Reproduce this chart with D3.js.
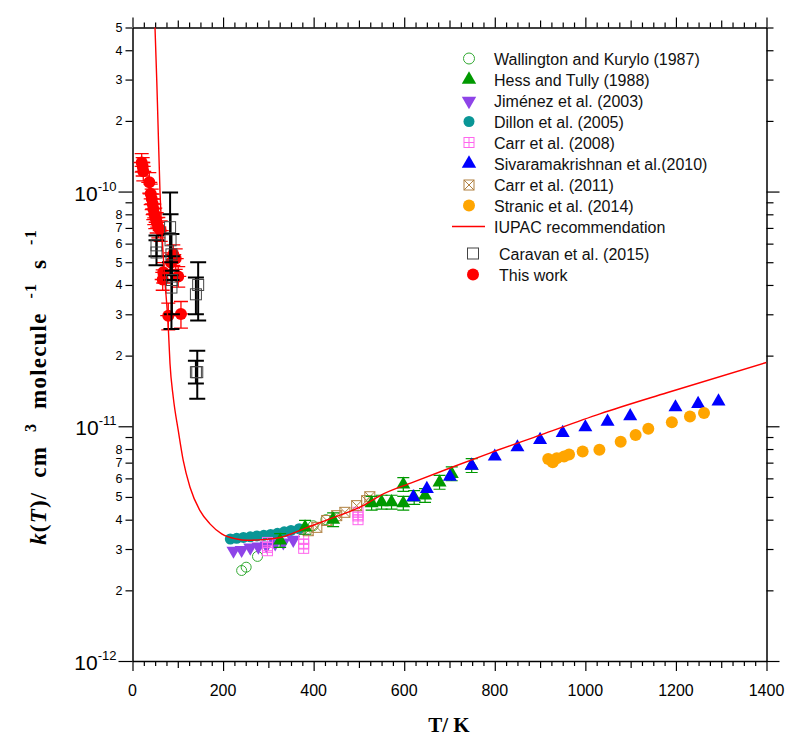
<!DOCTYPE html>
<html><head><meta charset="utf-8">
<script src="https://cdn.jsdelivr.net/npm/d3@7"></script>
<style>body{margin:0;background:#fff}</style>
</head><body>
<svg id="chart" width="800" height="747"></svg>
<script>
// ---------------- DATA ----------------
const xTickValues = [0, 200, 400, 600, 800, 1000, 1200, 1400];
const yMajorTicks = [1e-12, 1e-11, 1e-10];
const yMajorLabels = ["-12", "-11", "-10"];
const yMinorTicks = [2e-12,3e-12,4e-12,5e-12,6e-12,7e-12,8e-12,9e-12,
                     2e-11,3e-11,4e-11,5e-11,6e-11,7e-11,8e-11,9e-11,
                     2e-10,3e-10,4e-10,5e-10];
const yMinorLabels = ["2","3","4","5","6","7","8","",
                      "2","3","4","5","6","7","8","",
                      "2","3","4","5"];

const iupacT = [47, 49.7, 55, 60.7, 70, 79, 82.8, 90, 101, 112, 127, 149, 171, 197, 230, 252, 290, 326, 385, 436, 509, 547, 620, 701, 789, 900, 1032, 1180, 1400];
const iupacK = [6.2e-10, 5.0e-10, 2.4e-10, 1.0e-10, 4.6e-11, 2.64e-11, 1.85e-11, 1.33e-11, 9.6e-12, 7.15e-12, 5.5e-12, 4.37e-12, 3.84e-12, 3.48e-12, 3.31e-12, 3.27e-12, 3.29e-12, 3.36e-12, 3.70e-12, 4.03e-12, 4.59e-12, 5.07e-12, 5.78e-12, 6.64e-12, 7.69e-12, 9.17e-12, 1.13e-11, 1.39e-11, 1.87e-11];

const wallingtonT = [241, 251, 276, 326, 399, 427];
const wallingtonK = [2.43e-12, 2.51e-12, 2.79e-12, 3.2e-12, 3.77e-12, 4.0e-12];

const hessT = [326, 381, 443, 528, 550, 572, 598, 598, 622, 646, 678, 705, 749];
const hessK = [3.26e-12, 3.71e-12, 4.0e-12, 4.70e-12, 4.75e-12, 4.75e-12, 4.70e-12, 5.65e-12, 4.97e-12, 5.07e-12, 5.77e-12, 6.27e-12, 6.8e-12];

const jimenezT = [223, 241, 260, 278, 296, 315, 333, 355];
const jimenezK = [2.95e-12, 2.97e-12, 3.04e-12, 3.07e-12, 3.10e-12, 3.17e-12, 3.20e-12, 3.28e-12];

const dillonT = [216, 230, 245, 260, 275, 290, 305, 320, 335, 350, 368];
const dillonK = [3.31e-12, 3.33e-12, 3.36e-12, 3.38e-12, 3.41e-12, 3.43e-12, 3.46e-12, 3.50e-12, 3.55e-12, 3.60e-12, 3.66e-12];

const carr2008T = [298, 298, 298, 378, 378, 378, 498, 498, 498];
const carr2008K = [3.2e-12, 3.05e-12, 2.95e-12, 3.3e-12, 3.15e-12, 3.02e-12, 4.3e-12, 4.15e-12, 4.0e-12];

const sivaT = [620, 650, 701, 749, 800, 850, 900, 950, 1000, 1049, 1099, 1199, 1249, 1294];
const sivaK = [4.99e-12, 5.41e-12, 6.1e-12, 6.8e-12, 7.43e-12, 8.14e-12, 8.75e-12, 9.37e-12, 9.9e-12, 1.047e-11, 1.104e-11, 1.205e-11, 1.246e-11, 1.277e-11];

const carr2011T = [388, 407, 429, 451, 469, 495, 517, 524];
const carr2011K = [3.59e-12, 3.71e-12, 3.97e-12, 4.16e-12, 4.30e-12, 4.59e-12, 4.82e-12, 5.01e-12];

const stranicT = [918, 928, 937, 953, 964, 994, 1031, 1078, 1111, 1139, 1191, 1231, 1262];
const stranicK = [7.26e-12, 7.03e-12, 7.3e-12, 7.43e-12, 7.58e-12, 7.8e-12, 7.94e-12, 8.6e-12, 9.19e-12, 9.75e-12, 1.04e-11, 1.10e-11, 1.14e-11];

const caravanT = [53, 53, 83, 84, 86, 87, 86, 140, 145, 140, 143];
const caravanK = [5.9e-11, 5.5e-11, 7.05e-11, 6.2e-11, 5.4e-11, 4.2e-11, 3.9e-11, 3.65e-11, 4.0e-11, 1.7e-11, 1.7e-11];
const caravanHi = [6.5e-11, 6.2e-11, 9.9e-11, 8.0e-11, 6.6e-11, 5.3e-11, 4.6e-11, 4.3e-11, 5.0e-11, 1.9e-11, 2.1e-11];
const caravanLo = [5.3e-11, 4.85e-11, 5.0e-11, 4.4e-11, 4.2e-11, 3.0e-11, 2.6e-11, 3.0e-11, 2.82e-11, 1.52e-11, 1.31e-11];

const thisT = [20.3, 22.5, 23.8, 37.1, 40.2, 42.4, 44.6, 45.9, 48.1, 50.3, 53.4, 57, 62.3, 90.1, 95.4, 85, 68, 66.7, 101, 79, 107];
const thisK = [1.33e-10, 1.28e-10, 1.22e-10, 1.095e-10, 9.78e-11, 9.31e-11, 8.86e-11, 8.44e-11, 8.04e-11, 7.73e-11, 7.40e-11, 7.05e-11, 6.82e-11, 5.39e-11, 5.18e-11, 4.98e-11, 4.53e-11, 4.22e-11, 4.35e-11, 2.96e-11, 3.01e-11];
const thisErr = [0.09, 0.09, 0.09, 0.1, 0.1, 0.1, 0.1, 0.1, 0.1, 0.1, 0.1, 0.1, 0.1, 0.1, 0.1, 0.1, 0.1, 0.1, 0.1, 0.13, 0.13];

const legendLabels = ["Wallington and Kurylo (1987)", "Hess and Tully (1988)", "Jiménez et al. (2003)", "Dillon et al. (2005)", "Carr et al. (2008)", "Sivaramakrishnan et al.(2010)", "Carr et al. (2011)", "Stranic et al. (2014)", "IUPAC recommendation", "Caravan et al. (2015)", "This work"];

// ---------------- CHART ----------------
const svg = d3.select("#chart");
const L = 132.5, R = 766.5, T = 27.5, B = 661;
const x = d3.scaleLinear().domain([0, 1400]).range([L, R]);
const y = d3.scaleLog().domain([1e-12, 5e-10]).range([B, T]);
const sansFont = "'Liberation Sans', Arial, sans-serif";
const serifFont = "'Liberation Serif', 'Times New Roman', serif";

const zip = (a, b) => a.map((v, i) => [v, b[i]]);

// axes ticks
const xAll = d3.range(0, 1401, 25);
const tlen = v => (v % 200 === 0 ? 10 : (v % 100 === 0 ? 7 : 5));
function styleAxis(g) { g.select(".domain").attr("stroke", "#000").attr("stroke-width", 1.5); g.selectAll(".tick line").attr("stroke", "#000").attr("stroke-width", 1.2); g.selectAll("text").remove(); }

const gxB = svg.append("g").attr("transform", `translate(0,${B})`)
  .call(d3.axisBottom(x).tickValues(xAll).tickSizeOuter(0).tickFormat(""));
styleAxis(gxB);
gxB.selectAll(".tick line").attr("y2", d => tlen(d));
const gxT = svg.append("g").attr("transform", `translate(0,${T})`)
  .call(d3.axisTop(x).tickValues(xAll).tickSizeOuter(0).tickFormat(""));
styleAxis(gxT);
gxT.selectAll(".tick line").attr("y2", d => -tlen(d));

const yAll = yMajorTicks.concat(yMinorTicks);
const isMajor = v => yMajorTicks.includes(v);
const gyL = svg.append("g").attr("transform", `translate(${L},0)`)
  .call(d3.axisLeft(y).tickValues(yAll).tickSizeOuter(0).tickFormat(""));
styleAxis(gyL);
gyL.selectAll(".tick line").attr("x2", d => isMajor(d) ? -14 : -7);
const gyR = svg.append("g").attr("transform", `translate(${R},0)`)
  .call(d3.axisRight(y).tickValues(yAll).tickSizeOuter(0).tickFormat(""));
styleAxis(gyR);
gyR.selectAll(".tick line").attr("x2", d => isMajor(d) ? 13 : 7);

// x tick labels
svg.append("g").selectAll("text").data(xTickValues).join("text")
  .attr("x", d => x(d)).attr("y", B + 35)
  .attr("text-anchor", "middle").attr("font-family", sansFont).attr("font-size", 16)
  .text(d => d);

// y minor labels
svg.append("g").selectAll("text").data(zip(yMinorTicks, yMinorLabels)).join("text")
  .attr("x", L - 10).attr("y", d => y(d[0]) + 4.5)
  .attr("text-anchor", "end").attr("font-family", sansFont).attr("font-size", 12.5)
  .text(d => d[1]);
// y major labels
const maj = svg.append("g").selectAll("text").data(zip(yMajorTicks, yMajorLabels)).join("text")
  .attr("x", L - 16).attr("y", d => y(d[0]) + 9)
  .attr("text-anchor", "end").attr("font-family", sansFont).attr("font-size", 21);
maj.append("tspan").text("10");
maj.append("tspan").attr("dy", -10).attr("font-size", 13).text(d => d[1]);

// axis titles
svg.append("text").attr("x", 449).attr("y", 732).attr("text-anchor", "middle")
  .attr("font-family", serifFont).attr("font-weight", "bold").attr("font-size", 21).text("T/ K");
const yl = svg.append("text").attr("transform", "translate(46,387) rotate(-90)")
  .attr("text-anchor", "middle").attr("font-family", serifFont).attr("font-weight", "bold").attr("font-size", 23)
  .attr("letter-spacing", 1.2).attr("xml:space", "preserve");
yl.append("tspan").attr("font-style", "italic").text("k");
yl.append("tspan").text("(");
yl.append("tspan").attr("font-style", "italic").text("T");
yl.append("tspan").text(")/  cm  ");
yl.append("tspan").attr("dy", -10).attr("font-size", 16).text("3");
yl.append("tspan").attr("dy", 10).text("  molecule  ");
yl.append("tspan").attr("dy", -10).attr("font-size", 16).text("-1");
yl.append("tspan").attr("dy", 10).text("  s  ");
yl.append("tspan").attr("dy", -10).attr("font-size", 16).text("-1");

// clip
svg.append("clipPath").attr("id", "clip").append("rect").attr("x", L).attr("y", T).attr("width", R - L).attr("height", B - T);
const plot = svg.append("g").attr("clip-path", "url(#clip)");

// symbols
const triUp = d3.symbol().type(d3.symbolTriangle).size(85)();
const triUpL = d3.symbol().type(d3.symbolTriangle).size(90)();

// Wallington
plot.append("g").selectAll("circle").data(zip(wallingtonT, wallingtonK)).join("circle")
  .attr("cx", d => x(d[0])).attr("cy", d => y(d[1])).attr("r", 5)
  .attr("fill", "none").attr("stroke", "#33aa33").attr("stroke-width", 1);

// Dillon
plot.append("g").selectAll("circle").data(zip(dillonT, dillonK)).join("circle")
  .attr("cx", d => x(d[0])).attr("cy", d => y(d[1])).attr("r", 5.5)
  .attr("fill", "#0a9696");

// Jimenez (down triangles)
plot.append("g").selectAll("path").data(zip(jimenezT, jimenezK)).join("path")
  .attr("d", triUp).attr("transform", d => `translate(${x(d[0])},${y(d[1])}) rotate(180)`)
  .attr("fill", "#8e44e8");

// Carr 2008
const c08 = plot.append("g").selectAll("g").data(zip(carr2008T, carr2008K)).join("g")
  .attr("transform", d => `translate(${x(d[0])},${y(d[1])})`)
  .attr("stroke", "#ff66ee").attr("fill", "none").attr("stroke-width", 1);
c08.append("rect").attr("x", -5).attr("y", -5).attr("width", 10).attr("height", 10);
c08.append("path").attr("d", "M-5,0H5M0,-5V5");

// Carr 2011
const c11 = plot.append("g").selectAll("g").data(zip(carr2011T, carr2011K)).join("g")
  .attr("transform", d => `translate(${x(d[0])},${y(d[1])})`)
  .attr("stroke", "#b08040").attr("fill", "none").attr("stroke-width", 1);
c11.append("rect").attr("x", -5).attr("y", -5).attr("width", 10).attr("height", 10);
c11.append("path").attr("d", "M-5,-5L5,5M5,-5L-5,5");

// Hess & Tully with error bars
const hg = plot.append("g");
hg.selectAll("path.eb").data(zip(hessT, hessK)).join("path").attr("class", "eb")
  .attr("d", d => { const cx = x(d[0]), y1 = y(d[1] * 1.07), y2 = y(d[1] / 1.07);
    return `M${cx},${y1}V${y2}M${cx - 6},${y1}H${cx + 6}M${cx - 6},${y2}H${cx + 6}`; })
  .attr("stroke", "#009900").attr("stroke-width", 1.2).attr("fill", "none");
hg.selectAll("path.m").data(zip(hessT, hessK)).join("path").attr("class", "m")
  .attr("d", triUp).attr("transform", d => `translate(${x(d[0])},${y(d[1])})`)
  .attr("fill", "#009900");

// Sivaramakrishnan
plot.append("g").selectAll("path").data(zip(sivaT, sivaK)).join("path")
  .attr("d", triUp).attr("transform", d => `translate(${x(d[0])},${y(d[1])})`)
  .attr("fill", "#0000ff");

// Stranic
plot.append("g").selectAll("circle").data(zip(stranicT, stranicK)).join("circle")
  .attr("cx", d => x(d[0])).attr("cy", d => y(d[1])).attr("r", 6)
  .attr("fill", "#ffa500");

// This work
const tw = plot.append("g");
const twData = thisT.map((t, i) => [t, thisK[i], thisErr[i]]);
tw.selectAll("path").data(twData).join("path")
  .attr("d", d => { const cx = x(d[0]), cy = y(d[1]), y1 = y(d[1] * (1 + d[2])), y2 = y(d[1] * (1 - d[2]));
    return `M${cx},${y1}V${y2}M${cx - 7},${y1}H${cx + 7}M${cx - 7},${y2}H${cx + 7}M${cx - 8},${cy}H${cx + 8}`; })
  .attr("stroke", "#ff0000").attr("stroke-width", 1.3).attr("fill", "none");
tw.selectAll("circle").data(twData).join("circle")
  .attr("cx", d => x(d[0])).attr("cy", d => y(d[1])).attr("r", 6).attr("fill", "#ff0000");

// Caravan
const cv = plot.append("g");
const cvData = caravanT.map((t, i) => [t, caravanK[i], caravanHi[i], caravanLo[i]]);
cv.selectAll("path").data(cvData).join("path")
  .attr("d", d => { const cx = x(d[0]), y1 = y(d[2]), y2 = y(d[3]);
    return `M${cx},${y1}V${y2}M${cx - 8},${y1}H${cx + 8}M${cx - 8},${y2}H${cx + 8}`; })
  .attr("stroke", "#000").attr("stroke-width", 2).attr("fill", "none");
cv.selectAll("rect").data(cvData).join("rect")
  .attr("x", d => x(d[0]) - 5.5).attr("y", d => y(d[1]) - 5.5).attr("width", 11).attr("height", 11)
  .attr("fill", "none").attr("stroke", "#444").attr("stroke-width", 1);

// IUPAC line
const line = d3.line().x(d => x(d[0])).y(d => y(d[1])).curve(d3.curveMonotoneX);
plot.append("path").datum(zip(iupacT, iupacK)).attr("d", line)
  .attr("fill", "none").attr("stroke", "#ff0000").attr("stroke-width", 1.4);

// ---------------- LEGEND ----------------
const legY = [58.5, 79.5, 101, 121.5, 142.5, 163.5, 185, 205.5, 226.5, 253.5, 274.5];
const lg = svg.append("g");
const mx = 469;
lg.append("circle").attr("cx", mx).attr("cy", legY[0]).attr("r", 5.5).attr("fill", "none").attr("stroke", "#33aa33");
lg.append("path").attr("d", triUpL).attr("transform", `translate(${mx},${legY[1]})`).attr("fill", "#009900");
lg.append("path").attr("d", triUpL).attr("transform", `translate(${mx},${legY[2]}) rotate(180)`).attr("fill", "#8e44e8");
lg.append("circle").attr("cx", mx).attr("cy", legY[3]).attr("r", 5.5).attr("fill", "#0a9696");
const l08 = lg.append("g").attr("transform", `translate(${mx},${legY[4]})`).attr("stroke", "#ff66ee").attr("fill", "none");
l08.append("rect").attr("x", -5).attr("y", -5).attr("width", 10).attr("height", 10);
l08.append("path").attr("d", "M-5,0H5M0,-5V5");
lg.append("path").attr("d", triUpL).attr("transform", `translate(${mx},${legY[5]})`).attr("fill", "#0000ff");
const l11 = lg.append("g").attr("transform", `translate(${mx},${legY[6]})`).attr("stroke", "#b08040").attr("fill", "none");
l11.append("rect").attr("x", -5).attr("y", -5).attr("width", 10).attr("height", 10);
l11.append("path").attr("d", "M-5,-5L5,5M5,-5L-5,5");
lg.append("circle").attr("cx", mx).attr("cy", legY[7]).attr("r", 6).attr("fill", "#ffa500");
lg.append("line").attr("x1", 452).attr("x2", 485).attr("y1", legY[8]).attr("y2", legY[8]).attr("stroke", "#ff0000").attr("stroke-width", 1.3);
lg.append("rect").attr("x", 473 - 5.5).attr("y", legY[9] - 5.5).attr("width", 11).attr("height", 11).attr("fill", "none").attr("stroke", "#444");
lg.append("circle").attr("cx", 473).attr("cy", legY[10]).attr("r", 6).attr("fill", "#ff0000");

lg.selectAll("text").data(legendLabels).join("text")
  .attr("x", (d, i) => i >= 9 ? 499 : 494).attr("y", (d, i) => legY[i] + 6)
  .attr("font-family", sansFont).attr("font-size", 16).attr("fill", "#111")
  .text(d => d);
</script>
</body></html>
